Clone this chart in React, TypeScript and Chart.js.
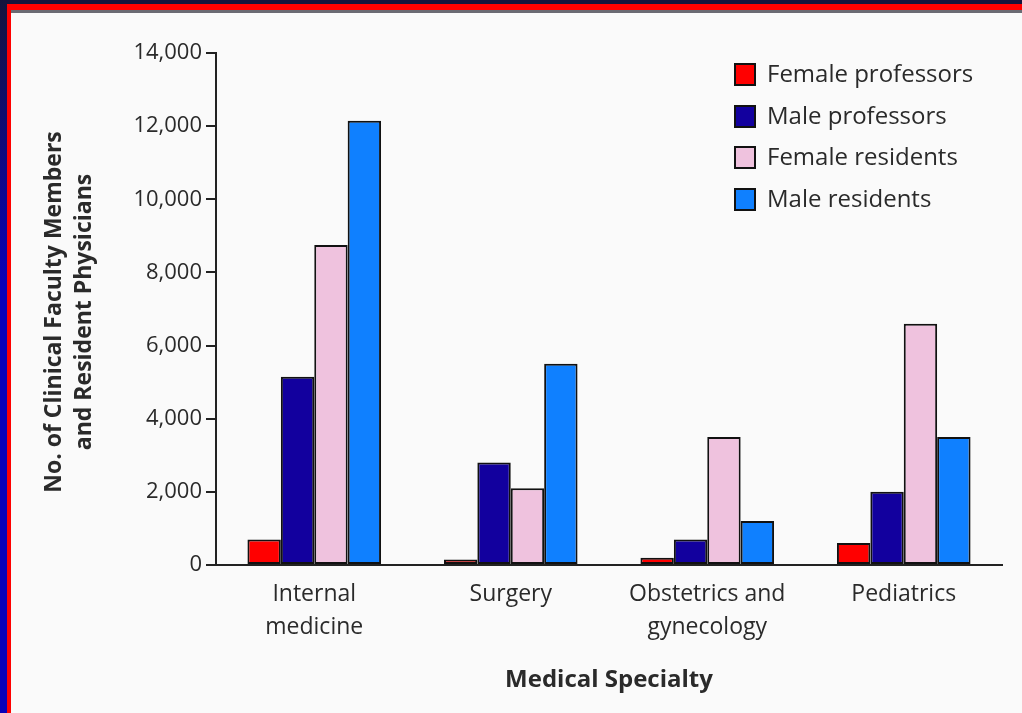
import React, { useEffect, useRef } from "react";
import { Chart, registerables } from "chart.js";

Chart.register(...registerables);

const categories: string[][] = [
  ["Internal", "medicine"],
  ["Surgery"],
  ["Obstetrics and", "gynecology"],
  ["Pediatrics"],
];
const femaleProfessors = [700, 150, 200, 600];
const maleProfessors = [5150, 2800, 700, 2000];
const femaleResidents = [8750, 2100, 3500, 6600];
const maleResidents = [12150, 5500, 1200, 3500];
const seriesNames = ["Female professors", "Male professors", "Female residents", "Male residents"];
const seriesColors = ["#ff0000", "#12009e", "#efc2de", "#0f80ff"];
const yTickValues = [0, 2000, 4000, 6000, 8000, 10000, 12000, 14000];
const yTitleLines = ["No. of Clinical Faculty Members", "and Resident Physicians"];
const xTitle = "Medical Specialty";

const FONT = "'Open Sans', sans-serif";
const TEXT = "#2a2a2a";

const W = 1011;
const H = 700;

const titlesPlugin = {
  id: "customTitles",
  afterDraw(chart: any) {
    const ctx = chart.ctx;
    const area = chart.chartArea;
    ctx.save();
    ctx.fillStyle = TEXT;
    ctx.textAlign = "center";
    ctx.textBaseline = "middle";
    // x title
    ctx.font = `bold 24px ${FONT}`;
    ctx.fillText(xTitle, (area.left + area.right) / 2, 667);
    // y title
    ctx.font = `bold 23px ${FONT}`;
    const cy = (area.top + area.bottom) / 2 + 3;
    ctx.translate(43, cy);
    ctx.rotate(-Math.PI / 2);
    ctx.fillText(yTitleLines[0], 0, 0);
    ctx.fillText(yTitleLines[1], 0, 30);
    ctx.restore();

    // legend
    ctx.save();
    const bx = 723;
    const rows = [61, 103, 144, 186];
    chart.data.datasets.forEach((ds: any, i: number) => {
      const y = rows[i];
      ctx.fillStyle = ds.backgroundColor;
      ctx.fillRect(bx, y - 11, 22, 23);
      ctx.strokeStyle = "#111";
      ctx.lineWidth = 2;
      ctx.strokeRect(bx + 1, y - 10, 20, 21);
      ctx.fillStyle = TEXT;
      ctx.font = `24px ${FONT}`;
      ctx.textAlign = "left";
      ctx.textBaseline = "middle";
      ctx.fillText(ds.label, 756, y + 1);
    });
    ctx.restore();
  },
};

export default function App() {
  const ref = useRef<HTMLCanvasElement | null>(null);

  useEffect(() => {
    document.body.style.margin = "0";
    const canvas = ref.current!;
    const datasets = [femaleProfessors, maleProfessors, femaleResidents, maleResidents].map((d, i) => ({
      label: seriesNames[i],
      data: d,
      backgroundColor: seriesColors[i],
      borderColor: "#111111",
      borderWidth: 2,
      borderSkipped: false as const,
      categoryPercentage: 0.68,
      barPercentage: 1.0,
    }));
    const chart = new Chart(canvas, {
      type: "bar",
      data: { labels: categories, datasets },
      options: {
        responsive: false,
        animation: false,
        devicePixelRatio: 1,
        layout: { padding: { top: 40, right: 20, bottom: 0, left: 0 } },
        plugins: {
          legend: { display: false },
          tooltip: { enabled: false },
          title: { display: false },
        },
        scales: {
          x: {
            grid: { display: false },
            border: { display: true, color: "#222", width: 2 },
            ticks: {
              color: TEXT,
              font: { family: FONT, size: 23, lineHeight: 1.43 },
              padding: 5,
              maxRotation: 0,
              autoSkip: false,
            },
            afterFit(scale: any) {
              scale.height = 148;
            },
          },
          y: {
            min: 0,
            max: 14000,
            afterBuildTicks(scale: any) {
              scale.ticks = yTickValues.map((v) => ({ value: v }));
            },
            grid: {
              drawOnChartArea: false,
              drawTicks: true,
              tickLength: 10,
              color: "#222",
              lineWidth: 2,
            },
            border: { display: true, color: "#222", width: 2 },
            ticks: {
              color: TEXT,
              font: { family: FONT, size: 22 },
              padding: 4,
              callback: (v: any) => Number(v).toLocaleString("en-US"),
            },
            afterFit(scale: any) {
              scale.width = 205;
            },
          },
        },
      },
      plugins: [titlesPlugin],
    });
    return () => chart.destroy();
  }, []);

  return (
    <div style={{ position: "fixed", left: 0, top: 0, width: 1022, height: 713, background: "#14143c", overflow: "hidden" }}>
      <div style={{ position: "absolute", left: 0, top: 0, width: 7, height: 713, background: "linear-gradient(#14143c, #0a00b8 40%, #0a00b8)" }} />
      <div style={{ position: "absolute", left: 7, top: 4, width: 1015, height: 709, background: "#ff0000" }} />
      <div style={{ position: "absolute", left: 11, top: 10, width: 1011, height: 3, background: "#6b6b73" }} />
      <div style={{ position: "absolute", left: 11, top: 13, width: W, height: H, background: "#fafafa" }}>
        <canvas ref={ref} width={W} height={H} style={{ display: "block", width: W, height: H }} />
      </div>
    </div>
  );
}
